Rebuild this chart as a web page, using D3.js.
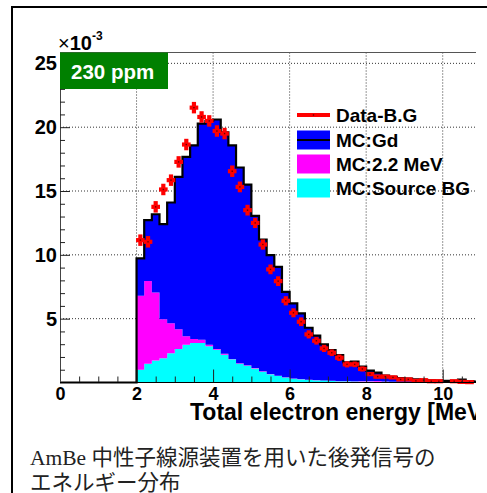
<!DOCTYPE html>
<html><head><meta charset="utf-8">
<script src="https://cdn.jsdelivr.net/npm/d3@7"></script>
<style>body{margin:0;background:#fff;} svg{display:block;}</style>
</head><body>
<svg id="c" width="487" height="493"></svg>
<script>
// ---- data (values x10^-3) ----
const binLowEdges = [2.0,2.2,2.4,2.6,2.8,3.0,3.2,3.4,3.6,3.8,4.0,4.2,4.4,4.6,4.8,5.0,5.2,5.4,5.6,5.8,6.0,6.2,6.4,6.6,6.8,7.0,7.2,7.4,7.6,7.8,8.0,8.2,8.4,8.6,8.8,9.0,9.2,9.4,9.6,9.8,10.0,10.2,10.4,10.6,10.8];
const binWidth = 0.2;
const mcSourceBG = [1.00,1.46,1.72,1.90,2.30,2.62,2.96,3.09,3.09,2.83,2.57,2.18,1.83,1.46,1.31,1.10,0.85,0.65,0.50,0.40,0.30,0.25,0.20,0.18,0.15,0.12,0.10,0.10,0.08,0.08,0.07,0.06,0.05,0.05,0.04,0.04,0.03,0.03,0.03,0.02,0.02,0.02,0.02,0.01,0.01];
const mc22MeV = [5.80,6.49,5.33,3.05,2.35,1.56,0.66,0.31,0.26,0.13,0.05,0.07,0.02,0.04,0.04,0.03,0.03,0.02,0.02,0.02,0.02,0.02,0.01,0.01,0.01,0.01,0.01,0.01,0.01,0.03,0.04,0.06,0.02,0.01,0.01,0.01,0.01,0.01,0.01,0.01,0.01,0.01,0.01,0.01,0.01];
const mcGd = [2.92,4.77,6.13,7.45,9.45,11.92,14.05,15.18,16.93,17.54,17.98,17.35,16.73,15.34,14.15,11.92,10.32,9.31,8.54,6.68,5.88,5.14,4.08,3.48,2.83,2.41,2.04,1.47,1.54,1.13,0.82,0.65,0.48,0.39,0.30,0.25,0.21,0.16,0.12,0.12,0.09,0.09,0.19,0.08,0.06];
const dataBG = [11.15,11.02,13.76,15.12,15.85,17.28,18.64,21.53,20.80,20.49,19.70,19.50,16.55,15.32,13.50,12.50,10.81,8.86,7.94,6.40,5.46,4.76,3.77,3.27,2.67,2.33,1.94,1.42,1.42,1.06,0.66,0.46,0.46,0.40,0.24,0.24,0.13,0.18,0.10,0.10,null,0.10,0.05,0.03,null];
const dataErr = [0.45,0.45,0.45,0.45,0.45,0.45,0.45,0.45,0.45,0.45,0.45,0.45,0.45,0.42,0.42,0.40,0.40,0.38,0.38,0.36,0.35,0.34,0.32,0.30,0.28,0.26,0.25,0.24,0.22,0.20,0.16,0.15,0.14,0.13,0.12,0.12,0.10,0.10,0.08,0.08,0.06,0.06,0.06,0.05,0.05];
const xTicks = [0,2,4,6,8,10];
const xMinorTicks = [0.5,1,1.5,2.5,3,3.5,4.5,5,5.5,6.5,7,7.5,8.5,9,9.5,10.5];
const yTicks = [5,10,15,20,25];
const yMinorTicks = [1,2,3,4,6,7,8,9,11,12,13,14,16,17,18,19,21,22,23,24];
const legendLabels = ["Data-B.G","MC:Gd","MC:2.2 MeV","MC:Source BG"];
const colors = {data:"#ff0000", gd:"#0000ff", m22:"#ff00ff", src:"#00ffff"};
const xTitle = "Total electron energy [MeV]";
const tagText = "230 ppm";
const captionLines = ["AmBe 中性子線源装置を用いた後発信号の","エネルギー分布"];

// ---- layout ----
const svg = d3.select("#c");
const L = 60, R = 476, T = 52.5, B = 382.5;
const x = d3.scaleLinear().domain([0, 10.87]).range([L, R]);
const y = d3.scaleLinear().domain([0, 25.85]).range([B, T]);
const FONT = "'Liberation Sans', Arial, Helvetica, sans-serif";

// outer slide frame
svg.append("line").attr("x1",12).attr("x2",12).attr("y1",6).attr("y2",493).attr("stroke","#000").attr("stroke-width",2);
svg.append("line").attr("x1",11).attr("x2",487).attr("y1",7).attr("y2",7).attr("stroke","#000").attr("stroke-width",2);

const defs = svg.append("defs");
defs.append("clipPath").attr("id","clipPlot").append("rect").attr("x",L).attr("y",30).attr("width",R-L).attr("height",370);
defs.append("clipPath").attr("id","clipAll").append("rect").attr("x",0).attr("y",0).attr("width",R).attr("height",493);

const root = svg.append("g").attr("clip-path","url(#clipAll)");

// grid
const grid = root.append("g");
grid.selectAll("line.gx").data(xTicks.filter(d=>d>0)).join("line")
  .attr("x1",d=>x(d)).attr("x2",d=>x(d)).attr("y1",T).attr("y2",B)
  .attr("stroke","#333").attr("stroke-width",1).attr("stroke-dasharray","1,2");
grid.selectAll("line.gy").data(yTicks).join("line")
  .attr("x1",L).attr("x2",R).attr("y1",d=>y(d)).attr("y2",d=>y(d))
  .attr("stroke","#333").attr("stroke-width",1).attr("stroke-dasharray","1,2");

// stacked histogram
const rows = binLowEdges.map((e,i)=>({e, src:mcSourceBG[i], m22:mc22MeV[i], gd:mcGd[i]}));
const stack = d3.stack().keys(["src","m22","gd"]);
const layers = stack(rows);
const plot = root.append("g").attr("clip-path","url(#clipPlot)");
const area = d3.area().x(p=>x(p.x)).y0(p=>y(p.y0)).y1(p=>y(p.y1));
layers.forEach(layer=>{
  const pts = [];
  layer.forEach((d,i)=>{
    const e = binLowEdges[i];
    pts.push({x:e, y0:d[0], y1:d[1]});
    pts.push({x:e+binWidth, y0:d[0], y1:d[1]});
  });
  plot.append("path").attr("d",area(pts)).attr("fill",colors[layer.key]).attr("stroke","none");
});
// outline of the stacked total
const totals = layers[layers.length-1].map(d=>d[1]);
const outPts = [[0,0],[binLowEdges[0],0]];
totals.forEach((t,i)=>{ outPts.push([binLowEdges[i],t]); outPts.push([binLowEdges[i]+binWidth,t]); });
plot.append("path").attr("d",d3.line().x(p=>x(p[0])).y(p=>y(p[1]))(outPts))
  .attr("fill","none").attr("stroke","#000").attr("stroke-width",2.2);

// data points with error bars
const pts = binLowEdges.map((e,i)=>({c:e+binWidth/2, v:dataBG[i], err:dataErr[i]})).filter(d=>d.v!=null);
const dg = plot.append("g");
dg.selectAll("line.h").data(pts).join("line")
  .attr("x1",d=>x(d.c-binWidth/2)-0.5).attr("x2",d=>x(d.c+binWidth/2)+0.5)
  .attr("y1",d=>y(d.v)).attr("y2",d=>y(d.v))
  .attr("stroke",colors.data).attr("stroke-width",4.2);
dg.selectAll("line.v").data(pts).join("line")
  .attr("x1",d=>x(d.c)).attr("x2",d=>x(d.c))
  .attr("y1",d=>y(d.v-d.err)).attr("y2",d=>y(d.v+d.err))
  .attr("stroke",colors.data).attr("stroke-width",4.2);
dg.selectAll("rect.m").data(pts).join("rect")
  .attr("x",d=>x(d.c)-0.7).attr("y",d=>y(d.v)-0.7).attr("width",1.4).attr("height",1.4)
  .attr("fill","#600");

// axes
const xAxis = root.append("g").attr("transform",`translate(0,${B})`)
  .call(d3.axisBottom(x).tickValues(xTicks).tickSize(-13).tickSizeOuter(0).tickPadding(5).tickFormat(d3.format("d")));
const xAxisMinor = root.append("g").attr("transform",`translate(0,${B})`)
  .call(d3.axisBottom(x).tickValues(xMinorTicks).tickSize(-6).tickSizeOuter(0).tickFormat(""));
xAxisMinor.select(".domain").remove();
const yAxis = root.append("g").attr("transform",`translate(${L},0)`)
  .call(d3.axisLeft(y).tickValues(yTicks).tickSize(-10).tickSizeOuter(0).tickPadding(3).tickFormat(d3.format("d")));
const yAxisMinor = root.append("g").attr("transform",`translate(${L},0)`)
  .call(d3.axisLeft(y).tickValues(yMinorTicks).tickSize(-5).tickSizeOuter(0).tickFormat(""));
yAxisMinor.select(".domain").remove();
[xAxis,yAxis].forEach(g=>{
  g.select(".domain").attr("stroke","#444").attr("stroke-width",1);
  g.selectAll("text").attr("font-family",FONT).attr("font-weight","bold").attr("fill","#000");
});
xAxis.selectAll("text").attr("font-size",18);
yAxis.selectAll("text").attr("font-size",20);
xAxis.select(".domain").remove();
root.selectAll(".tick line").attr("stroke","#222");
// top frame line and x axis line
root.append("line").attr("x1",L).attr("x2",R).attr("y1",T).attr("y2",T).attr("stroke","#555").attr("stroke-width",1);
root.append("line").attr("x1",L).attr("x2",R).attr("y1",B).attr("y2",B).attr("stroke","#000").attr("stroke-width",1);

// x title
root.append("text").attr("x",190).attr("y",420).text(xTitle)
  .attr("font-family",FONT).attr("font-weight","bold").attr("font-size",23).attr("fill","#000");

// exponent label
const ex = root.append("text").attr("x",58).attr("y",50).attr("font-family",FONT).attr("fill","#000");
ex.append("tspan").text("×").attr("font-size",20);
ex.append("tspan").text("10").attr("font-size",20).attr("font-weight","bold");
ex.append("tspan").text("-3").attr("font-size",12).attr("font-weight","bold").attr("dy",-10);

// green tag
root.append("rect").attr("x",L).attr("y",T).attr("width",108).attr("height",36.5).attr("fill","#008000");
root.append("text").attr("x",71).attr("y",79).text(tagText)
  .attr("font-family",FONT).attr("font-weight","bold").attr("font-size",20.5).attr("fill","#fff");

// legend
const lg = root.append("g");
const ly = [115,140,164,188];
const lx0 = 297, lx1 = 330;
lg.append("line").attr("x1",lx0).attr("x2",lx1).attr("y1",ly[0]).attr("y2",ly[0]).attr("stroke",colors.data).attr("stroke-width",4);
lg.append("rect").attr("x",(lx0+lx1)/2-0.7).attr("y",ly[0]-0.7).attr("width",1.4).attr("height",1.4).attr("fill","#600");
lg.append("rect").attr("x",lx0).attr("y",ly[1]-9.5).attr("width",lx1-lx0).attr("height",19).attr("fill",colors.gd);
lg.append("line").attr("x1",lx0).attr("x2",lx1).attr("y1",ly[1]).attr("y2",ly[1]).attr("stroke","#000").attr("stroke-width",2);
lg.append("rect").attr("x",lx0).attr("y",ly[2]-9.5).attr("width",lx1-lx0).attr("height",19).attr("fill",colors.m22);
lg.append("rect").attr("x",lx0).attr("y",ly[3]-9.5).attr("width",lx1-lx0).attr("height",19).attr("fill",colors.src);
lg.selectAll("text").data(legendLabels).join("text")
  .attr("x",336).attr("y",(d,i)=>ly[i]).attr("dy","0.36em").text(d=>d)
  .attr("font-family",FONT).attr("font-weight","bold").attr("font-size",19).attr("fill","#000");

// caption
svg.selectAll("text.cap").data(captionLines).join("text").attr("class","cap")
  .attr("x",30).attr("y",(d,i)=>465+i*25).text(d=>d)
  .attr("font-family","'Liberation Serif','Noto Sans CJK JP',serif").attr("font-size",21.5).attr("fill","#222");
</script>
</body></html>
